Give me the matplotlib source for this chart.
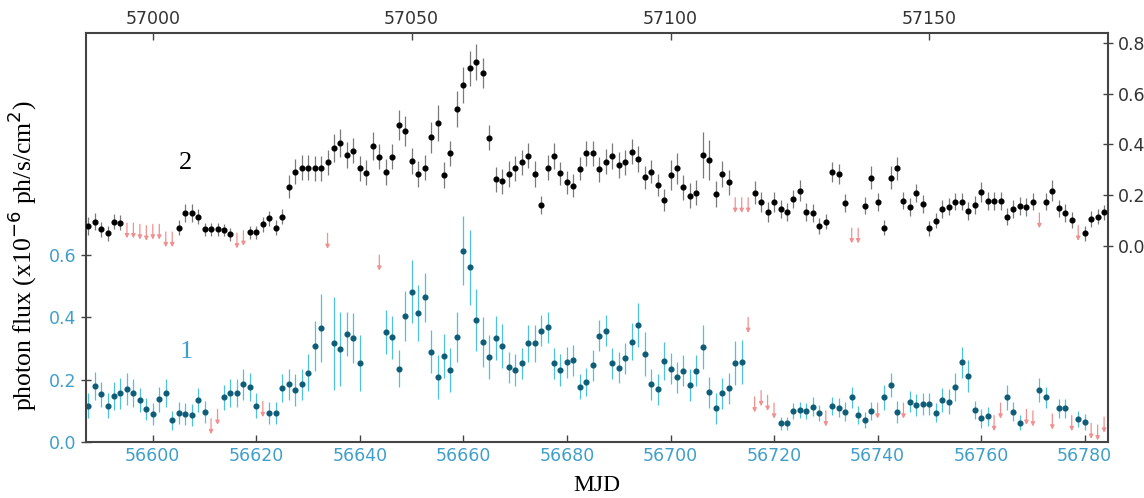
import numpy as np
import matplotlib
matplotlib.use('Agg')
import matplotlib.pyplot as plt

# 时间分箱 (天)
bin_width = 1.25
start1 = 56587.5   # 曲线1, 下方 MJD 轴
start2 = 56987.5   # 曲线2, 上方 MJD 轴

# 曲线1 (青色, 左轴); 上限点的值即上限
flux1 = [0.117, 0.18, 0.153, 0.117, 0.149, 0.156, 0.17, 0.158, 0.135, 0.105,
         0.09, 0.137, 0.156, 0.07, 0.092, 0.09, 0.087, 0.135, 0.097, 0.075,
         0.105, 0.143, 0.156, 0.156, 0.186, 0.178, 0.117, 0.13, 0.092, 0.092,
         0.172, 0.186, 0.167, 0.185, 0.223, 0.308, 0.366, 0.67, 0.317, 0.299,
         0.347, 0.333, 0.253, np.nan, np.nan, 0.60, 0.354, 0.336, 0.236, 0.404,
         0.483, 0.415, 0.464, 0.29, 0.208, 0.277, 0.231, 0.336, 0.614, 0.561,
         0.392, 0.322, 0.272, 0.333, 0.309, 0.24, 0.231, 0.253, 0.317, 0.317,
         0.357, 0.368, 0.253, 0.231, 0.256, 0.263, 0.178, 0.194, 0.247, 0.341,
         0.357, 0.253, 0.239, 0.269, 0.322, 0.376, 0.283, 0.186, 0.169, 0.26,
         0.236, 0.208, 0.229, 0.183, 0.229, 0.306, 0.159, 0.108, 0.156, 0.172,
         0.253, 0.256, 0.40, 0.145, 0.165, 0.15, 0.125, 0.06, 0.06, 0.10,
         0.103, 0.10, 0.113, 0.094, 0.10, 0.116, 0.11, 0.097, 0.143, 0.087,
         0.071, 0.10, 0.125, 0.143, 0.183, 0.096, 0.125, 0.13, 0.119, 0.121,
         0.121, 0.094, 0.135, 0.13, 0.178, 0.256, 0.212, 0.103, 0.076, 0.083,
         0.085, 0.125, 0.143, 0.097, 0.062, 0.105, 0.10, 0.167, 0.143, 0.09,
         0.108, 0.108, 0.085, 0.073, 0.065, 0.06, 0.055, 0.08]
err1 = [0.04, 0.045, 0.04, 0.04, 0.045, 0.05, 0.05, 0.045, 0.04, 0.035,
        0.035, 0.04, 0.045, 0.03, 0.035, 0.035, 0.035, 0.04, 0.035, 0,
        0, 0.04, 0.045, 0.045, 0.05, 0.045, 0.04, 0, 0.035, 0.035,
        0.045, 0.05, 0.05, 0.05, 0.06, 0.08, 0.11, 0, 0.15, 0.12,
        0.07, 0.08, 0.09, np.nan, np.nan, 0, 0.07, 0.07, 0.06, 0.08,
        0.1, 0.09, 0.08, 0.07, 0.07, 0.07, 0.07, 0.08, 0.11, 0.12,
        0.1, 0.08, 0.07, 0.07, 0.07, 0.05, 0.05, 0.05, 0.06, 0.06,
        0.05, 0.05, 0.05, 0.05, 0.05, 0.05, 0.04, 0.045, 0.05, 0.05,
        0.05, 0.05, 0.05, 0.05, 0.06, 0.07, 0.07, 0.05, 0.05, 0.06,
        0.05, 0.05, 0.05, 0.05, 0.05, 0.07, 0.05, 0.05, 0.05, 0.05,
        0.07, 0.07, 0, 0, 0, 0, 0, 0.02, 0.02, 0.025,
        0.025, 0.025, 0.03, 0.025, 0, 0.03, 0.03, 0.03, 0.035, 0.03,
        0.025, 0.03, 0, 0.04, 0.04, 0.035, 0, 0.035, 0.035, 0.035,
        0.035, 0.03, 0.04, 0.04, 0.045, 0.05, 0.05, 0.03, 0.03, 0.03,
        0, 0, 0.04, 0.03, 0.025, 0, 0, 0.04, 0.035, 0,
        0.03, 0.03, 0, 0.025, 0.025, 0, 0, 0]
ul1 = [19, 20, 27, 37, 45, 102, 103, 104, 105, 106, 114, 122, 126, 140, 141,
       145, 146, 149, 152, 155, 156, 157]

# 曲线2 (黑色, 右轴)
flux2 = [0.079, 0.096, 0.066, 0.05, 0.096, 0.092, 0.09, 0.09, 0.085, 0.08,
         0.085, 0.085, 0.055, 0.055, 0.072, 0.129, 0.131, 0.116, 0.066, 0.066,
         0.066, 0.063, 0.046, 0.05, 0.06, 0.053, 0.053, 0.085, 0.109, 0.072,
         0.116, 0.234, 0.293, 0.309, 0.309, 0.306, 0.306, 0.329, 0.385, 0.405,
         0.359, 0.376, 0.306, 0.289, 0.394, 0.352, 0.292, 0.352, 0.477, 0.453,
         0.335, 0.284, 0.309, 0.428, 0.484, 0.28, 0.365, 0.539, 0.635, 0.70,
         0.724, 0.681, 0.427, 0.263, 0.254, 0.284, 0.306, 0.329, 0.356, 0.284,
         0.162, 0.309, 0.355, 0.286, 0.251, 0.237, 0.304, 0.365, 0.365, 0.302,
         0.332, 0.355, 0.319, 0.329, 0.372, 0.343, 0.271, 0.293, 0.24, 0.181,
         0.28, 0.306, 0.231, 0.198, 0.21, 0.359, 0.339, 0.205, 0.284, 0.25,
         0.19, 0.19, 0.19, 0.21, 0.172, 0.135, 0.172, 0.145, 0.135, 0.185,
         0.218, 0.133, 0.129, 0.079, 0.096, 0.29, 0.284, 0.168, 0.07, 0.07,
         0.159, 0.269, 0.172, 0.072, 0.269, 0.306, 0.179, 0.152, 0.21, 0.166,
         0.07, 0.10, 0.146, 0.155, 0.175, 0.175, 0.139, 0.162, 0.212, 0.177,
         0.177, 0.177, 0.116, 0.145, 0.158, 0.152, 0.175, 0.13, 0.175, 0.218,
         0.148, 0.129, 0.102, 0.08, 0.05, 0.106, 0.116, 0.133]
err2 = [0.035, 0.035, 0.03, 0.03, 0.03, 0.03, 0, 0, 0, 0,
        0, 0, 0, 0, 0.03, 0.035, 0.035, 0.03, 0.025, 0.025,
        0.025, 0.025, 0.025, 0, 0, 0.025, 0.025, 0.03, 0.03, 0.03,
        0.03, 0.045, 0.05, 0.05, 0.05, 0.05, 0.05, 0.05, 0.055, 0.055,
        0.05, 0.05, 0.05, 0.05, 0.055, 0.05, 0.05, 0.05, 0.06, 0.06,
        0.05, 0.05, 0.05, 0.06, 0.07, 0.05, 0.05, 0.07, 0.07, 0.07,
        0.07, 0.06, 0.05, 0.05, 0.05, 0.05, 0.05, 0.05, 0.05, 0.05,
        0.035, 0.05, 0.05, 0.045, 0.045, 0.045, 0.045, 0.05, 0.05, 0.05,
        0.05, 0.05, 0.05, 0.05, 0.05, 0.05, 0.045, 0.045, 0.045, 0.045,
        0.06, 0.06, 0.05, 0.05, 0.05, 0.09, 0.08, 0.05, 0.05, 0.05,
        0, 0, 0, 0.045, 0.04, 0.04, 0.04, 0.035, 0.035, 0.035,
        0.04, 0.035, 0.035, 0.03, 0.03, 0.04, 0.04, 0.035, 0, 0,
        0.035, 0.045, 0.035, 0.03, 0.045, 0.045, 0.035, 0.035, 0.035, 0.035,
        0.03, 0.03, 0.035, 0.035, 0.035, 0.035, 0.035, 0.035, 0.04, 0.035,
        0.035, 0.035, 0.035, 0.035, 0.035, 0.035, 0.035, 0, 0.035, 0.04,
        0.035, 0.035, 0.03, 0, 0.03, 0.03, 0.03, 0.03]
ul2 = [6, 7, 8, 9, 10, 11, 12, 13, 23, 24, 100, 101, 102, 118, 119, 147, 153]

ticks1 = [56600, 56620, 56640, 56660, 56680, 56700, 56720, 56740, 56760, 56780]
ticks2 = [57000, 57050, 57100, 57150]
yticks1 = [0.0, 0.2, 0.4, 0.6]
yticks2 = [0.0, 0.2, 0.4, 0.6, 0.8]

CYAN = '#3f9fca'
BAR1 = '#4cc2dc'
DOT1 = '#0d5d78'
ULRED = '#f09090'


def draw_curve(ax, t0, flux, err, ul_idx, mcolor, ecolor, arrow_len):
    flux = np.array(flux, float)
    err = np.array(err, float)
    t = t0 + bin_width * np.arange(len(flux))
    det = ~np.isnan(flux)
    det[ul_idx] = False
    ax.errorbar(t[det], flux[det], yerr=err[det], fmt='o', ms=3.4,
                mfc=mcolor, mec=mcolor, ecolor=ecolor, elinewidth=0.9, capsize=0)
    # 上限用向下的箭头
    for i in ul_idx:
        ax.annotate('', xy=(t[i], flux[i] - arrow_len), xytext=(t[i], flux[i]),
                    arrowprops=dict(arrowstyle='-|>', color=ULRED, lw=0.9,
                                    mutation_scale=6, shrinkA=0, shrinkB=0))


fig = plt.figure(figsize=(11.44, 4.98), dpi=100)
pos = [0.0752, 0.1124, 0.8933, 0.8213]
ax1 = fig.add_axes(pos)
ax2 = fig.add_axes(pos, frameon=False)
ax2.patch.set_visible(False)

draw_curve(ax1, start1, flux1, err1, ul1, DOT1, BAR1, 0.05)
draw_curve(ax2, start2, flux2, err2, ul2, 'black', '#7a7a7a', 0.06)

ax1.set_xlim(56587.1, 56784.5)
ax1.set_ylim(0, 1.313)
ax2.set_xlim(56987.1, 57184.5)
ax2.set_ylim(-0.7726, 0.839)

ax1.set_xticks(ticks1)
ax1.set_yticks(yticks1)
ax1.set_xticklabels([str(v) for v in ticks1])
ax1.set_yticklabels(['%.1f' % v for v in yticks1])
ax1.tick_params(axis='both', colors='#444444', labelcolor=CYAN, labelsize=12.5,
                direction='in', length=5, width=1)
ax1.tick_params(axis='y', direction='inout', length=7)
ax1.tick_params(top=False, right=False)

ax2.xaxis.tick_top()
ax2.yaxis.tick_right()
ax2.set_xticks(ticks2)
ax2.set_yticks(yticks2)
ax2.set_xticklabels([str(v) for v in ticks2])
ax2.set_yticklabels(['%.1f' % v for v in yticks2])
ax2.tick_params(axis='both', colors='#444444', labelcolor='#333333', labelsize=12.5,
                direction='in', length=5, width=1)
ax2.tick_params(axis='y', direction='inout', length=7)

for s in ax1.spines.values():
    s.set_color('#444444')
    s.set_linewidth(1.5)

ax1.set_xlabel('MJD', family='Liberation Serif', fontsize=17, labelpad=7)
ax1.set_ylabel(r'photon flux (x10$^{-6}$ ph/s/cm$^{2}$)', family='Liberation Serif',
               fontsize=18.5, labelpad=6)
ax1.yaxis.set_label_coords(-0.046, 0.455)

ax1.text(56606.4, 0.896, '2', color='black', family='Liberation Serif',
         fontsize=19, ha='center', va='center')
ax1.text(56606.4, 0.289, '1', color=CYAN, family='Liberation Serif',
         fontsize=19, ha='center', va='center')

plt.savefig('out.png', dpi=100)
